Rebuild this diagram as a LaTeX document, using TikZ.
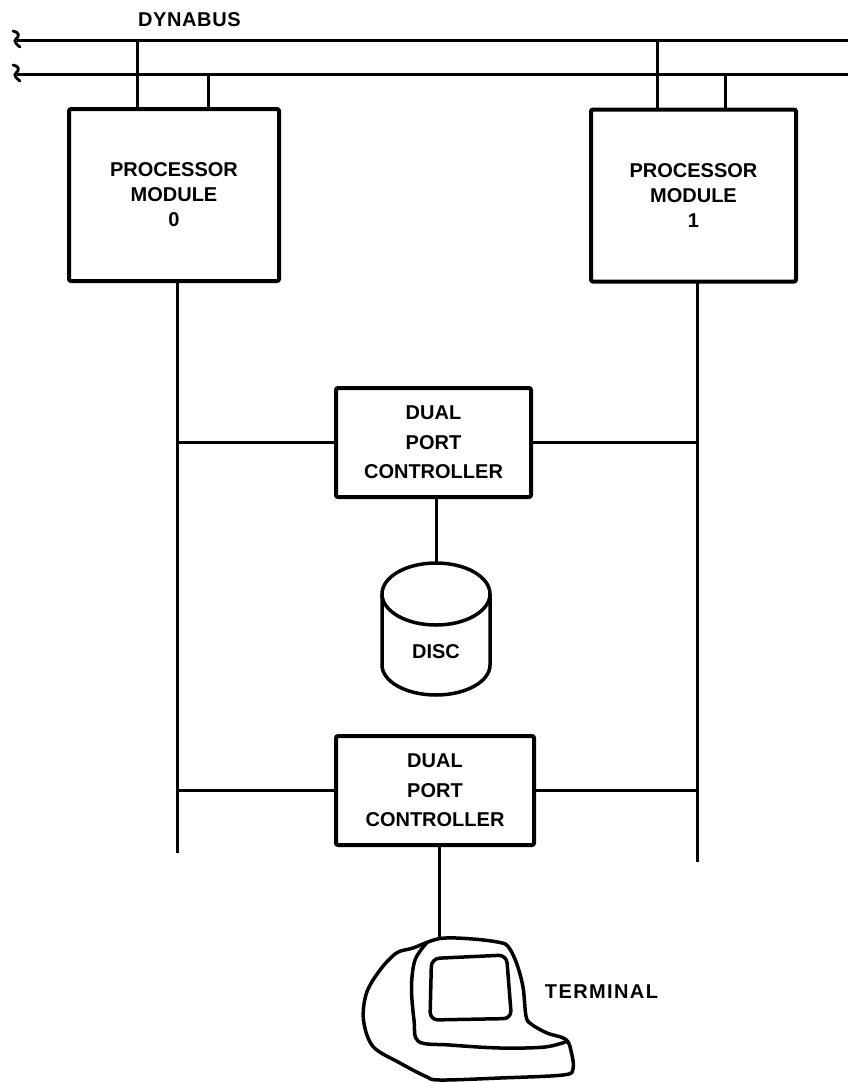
\documentclass[tikz,border=0pt]{standalone}
\usepackage{fontspec}
\setmainfont{Liberation Sans}
\usetikzlibrary{calc}
\tikzset{
  wire/.style={line width=3pt},
  box/.style={draw, line width=4pt, rounded corners=2pt, inner sep=0pt, align=center},
  pmbox/.style={box, minimum width=210pt, minimum height=172pt,
     font=\bfseries\fontsize{20}{25}\selectfont},
  ctlbox/.style={box, minimum width=195pt, minimum height=109pt,
     font=\bfseries\fontsize{20}{29.5}\selectfont},
  lbl/.style={inner sep=0pt},
  outline/.style={line width=3.5pt, line join=round},
}
\begin{document}
\begin{tikzpicture}[x=1pt,y=-1pt]
\useasboundingbox (0,0) rectangle (848,1082);

% Dynabus
\node[lbl, anchor=west, font=\bfseries\fontsize{20}{24}\selectfont\addfontfeatures{LetterSpace=3}] (dyn) at (138,20) {DYNABUS};
\coordinate (busAL) at (17,40);
\coordinate (busAR) at (848,40);
\coordinate (busBL) at (17,74);
\coordinate (busBR) at (848,74);
\draw[wire] (busAL) -- (busAR);
\draw[wire] (busBL) -- (busBR);
% break squiggles
\draw[line width=2.8pt, line cap=round]
  (13,31) .. controls (19,32) and (20,36) .. (16,39) .. controls (13,41) and (17,45) .. (20,47);
\draw[line width=2.8pt, line cap=round]
  (13,65) .. controls (19,66) and (20,70) .. (16,73) .. controls (13,75) and (17,79) .. (20,81);

% processor modules
\node[pmbox] (pm0) at (174,195) {PROCESSOR\\MODULE\\0};
\node[pmbox, minimum width=205pt] (pm1) at (693.5,195.5) {PROCESSOR\\MODULE\\1};

% bus taps
\coordinate (a0) at (137,40);
\coordinate (b0) at (208,74);
\coordinate (a1) at (657,40);
\coordinate (b1) at (725,74);
\draw[wire] (a0) -- (a0 |- pm0.north);
\draw[wire] (b0) -- (b0 |- pm0.north);
\draw[wire] (a1) -- (a1 |- pm1.north);
\draw[wire] (b1) -- (b1 |- pm1.north);

% I/O buses
\coordinate (io0top) at (177,282);
\coordinate (io0bot) at (177,853);
\coordinate (io1top) at (697,283);
\coordinate (io1bot) at (697,862);
\draw[wire] (io0top) -- (io0bot);
\draw[wire] (io1top) -- (io1bot);

% controllers
\node[ctlbox] (c1) at (433.5,442.5) {DUAL\\PORT\\CONTROLLER};
\node[ctlbox, minimum width=198pt] (c2) at (435,790.5) {DUAL\\PORT\\CONTROLLER};

\draw[wire] (io0bot |- c1.west) -- (c1.west);
\draw[wire] (c1.east) -- (io1bot |- c1.east);
\draw[wire] (io0bot |- c2.west) -- (c2.west);
\draw[wire] (c2.east) -- (io1bot |- c2.east);

% disc
\coordinate (disctop) at (436,563);
\draw[outline] (436,594) ellipse [x radius=54, y radius=31];
\draw[outline] (382,594) -- (382,665) arc[start angle=180, end angle=0, x radius=54, y radius=30] -- (490,594);
\node[lbl, font=\bfseries\fontsize{20}{24}\selectfont] (disc) at (436,652) {DISC};
\draw[wire] (c1.south -| disctop) -- (disctop);

% terminal
\coordinate (termtop) at (439,938);
\draw[wire] (c2.south -| termtop) -- (termtop);
\draw[outline] plot[smooth cycle, tension=0.55] coordinates {
  (413,948) (440,938.5) (473,939) (500,942.5) (508.5,947)
  (516.5,963) (523,987) (526,1016) (531,1024)
  (547,1033) (566,1039.5) (571.5,1053) (573,1069) (563,1075)
  (500,1078) (440,1080) (426,1076.5) (400,1063) (373,1046.5)
  (363.5,1020) (366.5,993) (380,970) (396.5,953)
};
\draw[outline] plot[smooth, tension=0.55] coordinates {
  (426.5,943) (415,960) (411.5,987) (414,1020) (418.5,1041.5)
  (450,1045) (500,1048) (545,1047) (568,1041)
};
\draw[outline, rounded corners=8pt] (431.5,958.5) -- (506.5,955) -- (511.5,1018.5) -- (430,1020) -- cycle;
\node[lbl, font=\bfseries\fontsize{20}{24}\selectfont\addfontfeatures{LetterSpace=7}] (term) at (601.5,992) {TERMINAL};
\end{tikzpicture}
\end{document}
